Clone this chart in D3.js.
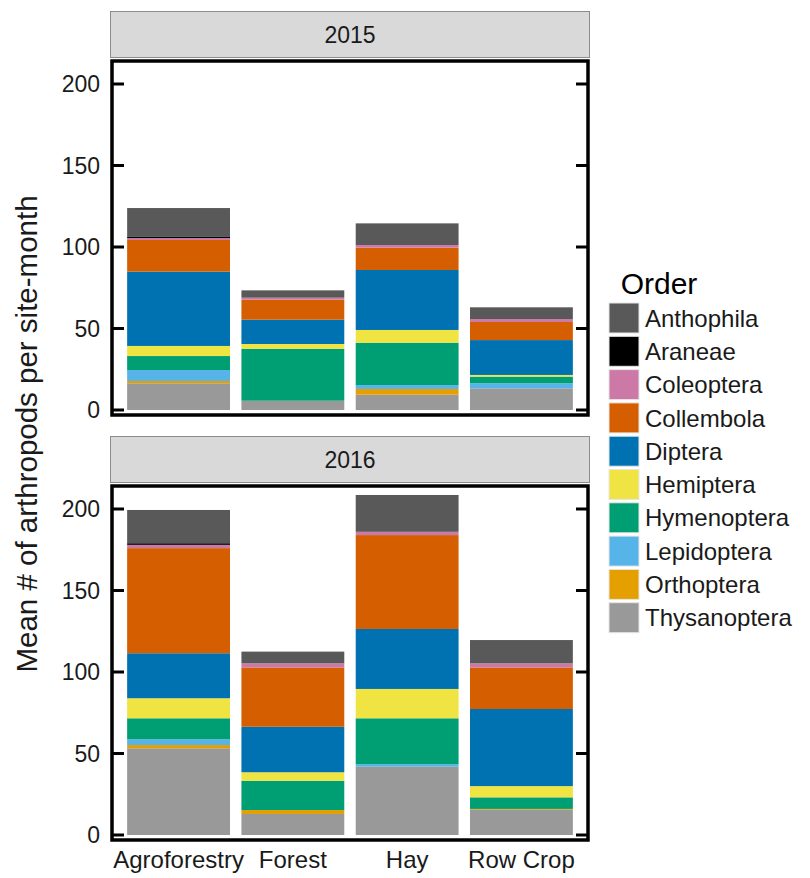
<!DOCTYPE html>
<html lang="en">
<head>
<meta charset="UTF-8">
<title>Arthropods per site-month</title>
<script src="https://d3js.org/d3.v7.min.js"></script>
<style>
    body { margin: 0; background: #fff; }
    text { font-family: "Liberation Sans", Arial, sans-serif; }
</style>
</head>
<body>
<svg width="810" height="878"></svg>
<script>
    // data
    var sites = ["Agroforestry", "Forest", "Hay", "Row Crop"];
    var orders = ["Anthophila", "Araneae", "Coleoptera", "Collembola", "Diptera",
                  "Hemiptera", "Hymenoptera", "Lepidoptera", "Orthoptera", "Thysanoptera"];
    var orderColors = ["#595959", "#000000", "#CC79A7", "#D55E00", "#0072B2",
                       "#F0E442", "#009E73", "#56B4E9", "#E69F00", "#999999"];
    var years = ["2015", "2016"];
    var yTicks = [0, 50, 100, 150, 200];

    // one row per order (same order as `orders`), one column per site
    var counts2015 = [
        [17.4, 4.5, 13.3, 7.2],
        [1.0, 0, 0, 0],
        [1.2, 1.2, 1.6, 1.8],
        [19.4, 12.3, 13.7, 11.1],
        [45.6, 14.9, 36.8, 21.4],
        [6.2, 2.9, 7.8, 1.0],
        [8.6, 31.9, 26.0, 4.1],
        [6.7, 0, 2.4, 3.1],
        [1.4, 0, 3.5, 0],
        [16.4, 5.7, 9.4, 13.3]
    ];
    var counts2016 = [
        [20.4, 7.2, 22.6, 14.3],
        [1.0, 0, 0, 0],
        [2.0, 2.5, 2.0, 2.5],
        [64.5, 36.4, 57.6, 25.5],
        [27.6, 27.9, 36.8, 47.3],
        [12.3, 5.2, 18.0, 6.9],
        [12.9, 18.0, 28.2, 7.1],
        [3.5, 0, 1.5, 0],
        [2.0, 2.4, 0, 0.5],
        [53.2, 12.9, 41.9, 15.5]
    ];
    var countsByYear = [counts2015, counts2016];

    var svg = d3.select("svg");
    var color = d3.scaleOrdinal().domain(orders).range(orderColors);

    var left = 110, right = 590;
    var x = d3.scaleBand()
        .domain(sites)
        .range([left, right])
        .paddingInner(0.1)
        .paddingOuter(0.15);

    var panelTop = [59, 484];
    var panelH = 356;

    years.forEach(function (yr, p) {
        var top = panelTop[p];
        var zeroY = top + 351;
        var y = d3.scaleLinear().domain([0, 200]).range([zeroY, zeroY - 326]);

        // strip
        svg.append("rect")
            .attr("x", left + 0.5).attr("y", top - 47.5)
            .attr("width", right - left - 1).attr("height", 46)
            .attr("fill", "#d9d9d9").attr("stroke", "#8c8c8c").attr("stroke-width", 1);
        svg.append("text")
            .attr("x", (left + right) / 2).attr("y", top - 24)
            .attr("dy", "0.35em").attr("text-anchor", "middle")
            .attr("font-size", 23).attr("fill", "#1a1a1a")
            .text(yr);

        // rows -> stacked series; stack bottom is the last order
        var counts = countsByYear[p];
        var table = sites.map(function (s, i) {
            var row = {site: s};
            orders.forEach(function (o, k) { row[o] = counts[k][i]; });
            return row;
        });
        var series = d3.stack().keys(orders.slice().reverse())(table);

        svg.append("g").selectAll("g")
            .data(series)
            .enter().append("g")
            .attr("fill", function (d) { return color(d.key); })
            .selectAll("rect")
            .data(function (d) { return d; })
            .enter().append("rect")
            .attr("x", function (d) { return x(d.data.site); })
            .attr("width", x.bandwidth())
            .attr("y", function (d) { return y(d[1]); })
            .attr("height", function (d) { return y(d[0]) - y(d[1]); });

        // panel border
        svg.append("rect")
            .attr("x", left + 2).attr("y", top + 2)
            .attr("width", right - left - 4).attr("height", panelH - 2)
            .attr("fill", "none").attr("stroke", "#000").attr("stroke-width", 3.5);

        // inward ticks both sides
        var ax = svg.append("g");
        ax.selectAll("line.l").data(yTicks).enter().append("line")
            .attr("x1", left + 2).attr("x2", left + 14)
            .attr("y1", function (d) { return y(d); }).attr("y2", function (d) { return y(d); })
            .attr("stroke", "#000").attr("stroke-width", 3);
        ax.selectAll("line.r").data(yTicks).enter().append("line")
            .attr("x1", right - 2).attr("x2", right - 14)
            .attr("y1", function (d) { return y(d); }).attr("y2", function (d) { return y(d); })
            .attr("stroke", "#000").attr("stroke-width", 3);
        ax.selectAll("text").data(yTicks).enter().append("text")
            .attr("x", left - 10).attr("y", function (d) { return y(d); })
            .attr("dy", "0.36em").attr("text-anchor", "end")
            .attr("font-size", 23).attr("fill", "#1a1a1a")
            .text(function (d) { return d; });

        if (p === 1) {
            svg.append("g").selectAll("text").data(sites).enter().append("text")
                .attr("x", function (d) { return x(d) + x.bandwidth() / 2; })
                .attr("y", 868)
                .attr("text-anchor", "middle")
                .attr("font-size", 24).attr("fill", "#1a1a1a")
                .text(function (d) { return d; });
        }
    });

    // y axis title
    svg.append("text")
        .attr("transform", "translate(37,434) rotate(-90)")
        .attr("text-anchor", "middle")
        .attr("font-size", 29.5).attr("fill", "#1a1a1a")
        .text("Mean # of arthropods per site-month");

    // legend
    var lg = svg.append("g").attr("transform", "translate(609,0)");
    lg.append("text")
        .attr("x", 50).attr("y", 294)
        .attr("text-anchor", "middle")
        .attr("font-size", 30).attr("fill", "#000")
        .text("Order");
    var item = lg.selectAll("g.item").data(orders).enter().append("g")
        .attr("transform", function (d, i) { return "translate(0," + (303 + i * 33.3) + ")"; });
    item.append("rect")
        .attr("width", 30).attr("height", 30)
        .attr("fill", function (d) { return color(d); })
        .attr("stroke", "#e6e6e6").attr("stroke-width", 1);
    item.append("text")
        .attr("x", 36).attr("y", 15).attr("dy", "0.36em")
        .attr("font-size", 24).attr("fill", "#1a1a1a")
        .text(function (d) { return d; });
</script>
</body>
</html>
